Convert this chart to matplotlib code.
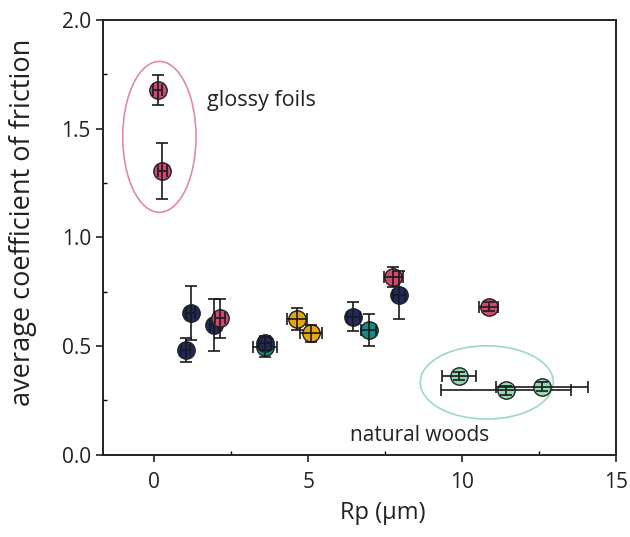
import matplotlib
matplotlib.use("Agg")
import matplotlib.pyplot as plt
from matplotlib.patches import Ellipse
from matplotlib.ticker import MultipleLocator

plt.rcParams['font.family'] = ['Open Sans', 'DejaVu Sans']

# data: Rp (um), average coefficient of friction, errors, group
rp = [1.03, 1.19, 1.96, 2.14, 3.60, 3.60, 4.63, 5.09, 6.47, 6.96, 7.77, 7.95, 10.86, 0.12, 0.27, 9.90, 11.42, 12.59]
cof = [0.483, 0.651, 0.598, 0.628, 0.498, 0.512, 0.625, 0.559, 0.636, 0.575, 0.817, 0.736, 0.682, 1.678, 1.306, 0.363, 0.296, 0.314]
rp_err = [0.15, 0.15, 0.15, 0.15, 0.40, 0.20, 0.33, 0.36, 0.20, 0.25, 0.30, 0.20, 0.32, 0.15, 0.15, 0.54, 2.10, 1.50]
cof_err = [0.055, 0.125, 0.12, 0.09, 0.05, 0.03, 0.05, 0.04, 0.066, 0.073, 0.045, 0.11, 0.02, 0.07, 0.13, 0.02, 0.02, 0.02]
group = ['navy', 'navy', 'navy', 'pink', 'teal', 'navy', 'yellow', 'yellow', 'navy', 'teal', 'pink', 'navy', 'pink',
         'pink', 'pink', 'green', 'green', 'green']

colors = {'navy': '#1f2a5c', 'pink': '#cf4a70', 'teal': '#178a88', 'yellow': '#e5a516', 'green': '#93d9b3'}

fig = plt.figure(figsize=(6.3, 5.37), dpi=100)
ax = fig.add_axes([0.163, 0.153, 0.815, 0.810])

for i in range(len(rp)):
    z = 3 + i * 0.1
    ax.plot(rp[i], cof[i], 'o', ms=12.5, mfc=colors[group[i]], mec='#202020', mew=1.0, zorder=z)
    ax.errorbar(rp[i], cof[i], xerr=rp_err[i], yerr=cof_err[i], fmt='none', ecolor='#1a1a1a',
                elinewidth=1.2, capsize=4.5, capthick=1.2, zorder=z + 0.05)

ax.add_patch(Ellipse((0.17, 1.462), 2.38, 0.694, fill=False, ec='#e28aa2', lw=1.2, zorder=2))
ax.add_patch(Ellipse((10.8, 0.333), 4.32, 0.337, fill=False, ec='#9dd9be', lw=1.2, zorder=2))

ax.text(1.72, 1.63, 'glossy foils', fontsize=15.5, va='center', ha='left', color='#222222')
ax.text(6.36, 0.087, 'natural woods', fontsize=15, va='center', ha='left', color='#222222')

ax.set_xlim(-1.67, 15)
ax.set_ylim(0, 2.0)
ax.xaxis.set_minor_locator(MultipleLocator(2.5))
ax.yaxis.set_minor_locator(MultipleLocator(0.25))
ax.set_xticks([0, 5, 10, 15])
ax.set_xticklabels(['0', '5', '10', '15'])
ax.set_yticks([0, 0.5, 1.0, 1.5, 2.0])
ax.set_yticklabels(['0.0', '0.5', '1.0', '1.5', '2.0'])
ax.tick_params(which='major', direction='out', length=5, width=1.2, labelsize=15, colors='#222222',
               top=False, right=False)
ax.tick_params(axis='x', which='major', pad=7)
ax.tick_params(which='minor', direction='in', length=3, width=1.0, top=False, right=False)
for s in ax.spines.values():
    s.set_linewidth(1.4)
    s.set_color('#222222')

ax.set_xlabel('Rp (µm)', fontsize=17, color='#222222')
ax.xaxis.set_label_coords(0.545, -0.105)
ax.set_ylabel('average coefficient of friction', fontsize=19.5, color='#222222')
ax.yaxis.set_label_coords(-0.128, 0.535)

fig.savefig('out.png', dpi=100)
